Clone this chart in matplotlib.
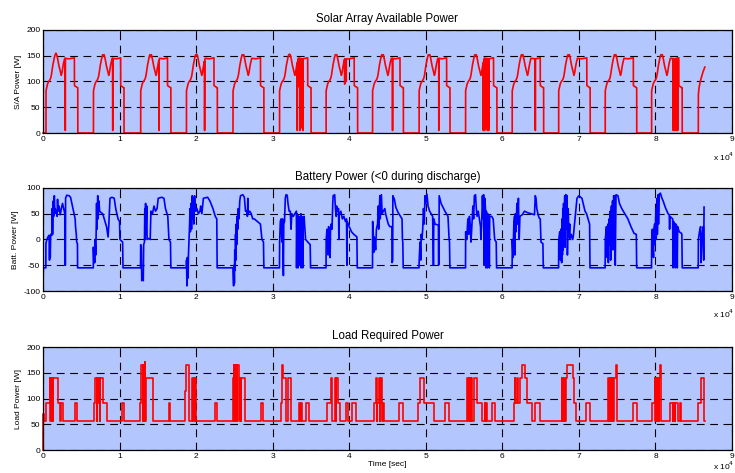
#!/usr/bin/env python3
"""Spacecraft power over one day: solar array, battery and load power (3 stacked panels).
Values read off the reference plot; times kept in units of 1e4 s. Writes out.png."""
import numpy as np
import matplotlib; matplotlib.use("Agg")
import matplotlib.pyplot as plt

plt.rcParams["font.family"] = ["Liberation Sans", "DejaVu Sans"]

BG, RED, BLUE = "#b3c6fd", "#ff0000", "#0000ff"
XTICKS = [0, 1, 2, 3, 4, 5, 6, 7, 8, 9]            # x 1e4 s

# ---- solar array: sunlit arcs (on/off in 1e4 s), arc shape, notches ----
SA_ON   = [0.039, 0.659, 1.276, 1.874, 2.482, 3.090, 3.698, 4.305, 4.913, 5.520, 6.129, 6.736, 7.344, 7.950]
SA_OFF  = [0.455, 1.059, 1.671, 2.278, 2.886, 3.502, 4.110, 4.708, 5.317, 5.930, 6.540, 7.148, 7.756, 8.350]
SA_PEAK = [155, 150, 148, 150, 151, 153, 152, 150, 151, 150, 150, 150, 150, 152]
SA_RISE_DT = [0, 0.0005, 0.01, 0.02, 0.035, 0.05, 0.06, 0.07, 0.08, 0.09, 0.10, 0.11, 0.12, 0.13,
              0.14, 0.15, 0.16, 0.17, 0.18, 0.19, 0.20, 0.21, 0.22, 0.23, 0.24, 0.245, 0.30]
SA_RISE_V  = [0, 82, 88, 95, 100, 103, 106, 112, 122, 132, 140, 147, 152, 154,
              152, 146, 138, 130, 124, 118, 112, 118, 128, 136, 142, 145, 144]
SA_FALL_DT = [-0.045, -0.044, -0.005, -0.001, 0]
SA_FALL_V  = [146, 92, 88, 88, 0]
SA_NOTCH = [[(0.29, 5)], [(0.91, 5)], [(1.514, 5)], [(2.11, 5)], [],
            [(3.32, 5), (3.34, 90), (3.355, 5), (3.375, 10), (3.395, 5)],
            [(3.94, 95), (3.96, 100)], [(4.565, 5)], [(5.17, 5)],
            [(5.75, 5), (5.768, 5), (5.786, 10), (5.804, 5), (5.822, 5)],
            [(6.43, 5)], [], [], [(8.23, 5), (8.25, 5), (8.27, 5), (8.29, 5)]]
SA_LAST_T = [8.560, 8.561, 8.57, 8.585, 8.60, 8.62, 8.645]
SA_LAST_V = [0, 75, 88, 100, 108, 118, 128]

# ---- battery power, one list per orbit: (t [1e4 s], P [W]) ----
B00 = [(0.0, -70), (0.006, -55)]
B01 = [(0.037,-55),(0.038,-8),(0.05,0),(0.065,5),(0.08,8),(0.085,-40),(0.09,5),(0.095,-35),(0.10,10),(0.115,8),
       (0.12,60),(0.125,10),(0.135,75),(0.14,45),(0.148,85),(0.155,50),(0.16,60),(0.17,55),(0.18,50),(0.185,45),
       (0.19,78),(0.195,55),(0.21,65),(0.225,48),(0.24,60),(0.255,70),(0.285,50),(0.287,-50),(0.293,-50),(0.295,80),
       (0.31,86),(0.34,85),(0.36,82),(0.38,68),(0.40,55),(0.42,40),(0.425,25),(0.435,10),(0.44,-5),(0.45,-8),(0.452,-55)]
B02 = [(0.657,-55),(0.658,-15),(0.665,-45),(0.67,-20),(0.675,-45),(0.68,0),(0.69,-30),(0.70,70),(0.705,20),(0.715,85),
       (0.72,40),(0.73,75),(0.74,55),(0.76,52),(0.78,50),(0.80,40),(0.83,25),(0.85,5),(0.86,30),(0.875,80),(0.90,82),
       (0.93,80),(0.95,60),(0.98,40),(1.0,35),(1.005,0),(1.04,-5),(1.045,-55)]
B03 = [(1.274,-55),(1.276,-10),(1.285,-15),(1.29,-80),(1.30,-70),(1.31,-80),(1.315,-10),(1.325,-5),(1.33,60),(1.335,0),
       (1.34,70),(1.345,10),(1.355,65),(1.36,0),(1.38,2),(1.40,0),(1.41,55),(1.43,50),(1.45,65),(1.47,55),(1.49,60),
       (1.505,80),(1.55,82),(1.58,80),(1.60,60),(1.63,45),(1.645,0),(1.665,-5),(1.67,-55)]
B04 = [(1.873,-55),(1.875,-40),(1.88,-90),(1.885,-35),(1.89,-60),(1.895,-75),(1.90,-30),(1.91,10),(1.915,30),(1.92,60),
       (1.925,15),(1.935,70),(1.94,20),(1.95,85),(1.955,40),(1.965,80),(1.97,30),(1.98,85),(1.99,55),(2.01,60),(2.03,50),
       (2.05,55),(2.06,65),(2.075,50),(2.095,80),(2.15,82),(2.18,75),(2.22,60),(2.25,45),(2.27,40),(2.275,-55)]
B05 = [(2.481,-55),(2.483,-70),(2.49,-90),(2.495,-50),(2.50,-85),(2.505,-20),(2.51,-60),(2.515,10),(2.52,-40),(2.525,30),
       (2.53,-10),(2.535,45),(2.545,20),(2.55,60),(2.56,40),(2.57,75),(2.58,85),(2.61,87),(2.63,82),(2.645,55),(2.66,55),
       (2.67,45),(2.675,80),(2.68,50),(2.70,55),(2.72,50),(2.74,40),(2.76,40),(2.80,35),(2.84,30),(2.86,0),(2.88,-5),(2.885,-55)]
B06 = [(3.089,-55),(3.091,-5),(3.10,35),(3.11,40),(3.12,-5),(3.13,40),(3.14,-70),(3.145,30),(3.155,35),(3.165,80),
       (3.175,87),(3.19,86),(3.20,70),(3.215,55),(3.23,55),(3.24,20),(3.25,50),(3.27,45),(3.31,55),(3.312,-55),(3.318,50),
       (3.33,45),(3.332,-55),(3.338,45),(3.35,40),(3.352,-50),(3.358,40),(3.37,50),(3.372,-55),(3.378,45),(3.39,40),
       (3.392,-55),(3.398,40),(3.41,45),(3.43,0),(3.46,-5),(3.49,-10),(3.495,-55)]
B07 = [(3.697,-55),(3.699,0),(3.71,20),(3.72,15),(3.725,-30),(3.73,25),(3.745,20),(3.75,-35),(3.755,15),(3.765,30),
       (3.775,20),(3.785,70),(3.79,85),(3.81,87),(3.82,60),(3.83,45),(3.835,65),(3.85,55),(3.86,60),(3.865,0),(3.87,50),
       (3.89,55),(3.91,40),(3.93,45),(3.95,35),(3.965,40),(3.97,-50),(3.975,35),(4.0,25),(4.03,15),(4.06,10),(4.10,5),(4.105,-55)]
B08 = [(4.304,-55),(4.306,35),(4.315,10),(4.32,-25),(4.325,5),(4.335,0),(4.345,-20),(4.355,20),(4.37,30),(4.38,65),
       (4.385,20),(4.40,85),(4.405,40),(4.42,87),(4.43,50),(4.445,55),(4.465,60),(4.475,50),(4.51,30),(4.53,25),(4.558,25),
       (4.56,-45),(4.568,-40),(4.57,85),(4.59,78),(4.61,62),(4.64,52),(4.67,45),(4.69,40),(4.695,0),(4.70,-5),(4.705,-55)]
B09 = [(4.912,-55),(4.914,-40),(4.925,-5),(4.935,-40),(4.94,10),(4.95,0),(4.96,20),(4.97,60),(4.98,30),(4.99,85),
       (5.0,70),(5.015,88),(5.03,65),(5.05,55),(5.07,50),(5.09,45),(5.10,-50),(5.105,40),(5.12,30),(5.165,28),(5.167,-50),
       (5.172,-45),(5.175,85),(5.20,70),(5.25,55),(5.27,50),(5.29,45),(5.305,0),(5.31,-5),(5.315,-55)]
B10 = [(5.519,-55),(5.521,15),(5.535,0),(5.55,40),(5.56,10),(5.57,45),(5.58,30),(5.59,-5),(5.60,20),(5.615,65),
       (5.625,40),(5.635,85),(5.65,87),(5.66,60),(5.67,45),(5.685,55),(5.70,40),(5.715,25),(5.72,0),(5.73,30),(5.74,85),
       (5.75,40),(5.755,87),(5.765,-50),(5.77,80),(5.78,60),(5.785,-55),(5.79,55),(5.80,50),(5.805,-55),(5.81,50),
       (5.825,45),(5.83,-55),(5.835,45),(5.86,45),(5.88,40),(5.90,0),(5.92,-5),(5.925,-55)]
B11 = [(6.128,-55),(6.13,0),(6.14,-35),(6.15,30),(6.16,45),(6.165,-30),(6.17,50),(6.18,15),(6.19,70),(6.20,30),
       (6.21,80),(6.22,0),(6.23,45),(6.26,48),(6.29,55),(6.33,52),(6.38,50),(6.42,48),(6.43,85),(6.44,80),(6.45,60),
       (6.465,50),(6.48,42),(6.495,40),(6.505,-5),(6.53,-8),(6.535,-55)]
B12 = [(6.735,-55),(6.737,0),(6.75,15),(6.76,-40),(6.765,20),(6.775,-45),(6.78,40),(6.785,-30),(6.79,60),(6.795,-20),
       (6.80,70),(6.805,10),(6.815,85),(6.82,-15),(6.83,87),(6.835,20),(6.845,85),(6.85,-30),(6.86,60),(6.87,5),(6.88,30),
       (6.885,0),(6.90,10),(6.92,0),(6.93,10),(6.975,80),(7.0,85),(7.04,80),(7.08,55),(7.10,50),(7.13,35),(7.14,30),(7.145,-55)]
B13 = [(7.343,-55),(7.345,0),(7.36,25),(7.37,-35),(7.38,30),(7.385,-45),(7.395,40),(7.40,-10),(7.41,55),(7.415,-40),
       (7.425,65),(7.43,0),(7.44,75),(7.445,-20),(7.455,85),(7.46,20),(7.47,85),(7.475,-50),(7.485,87),(7.51,85),(7.53,70),
       (7.56,60),(7.60,50),(7.64,40),(7.68,25),(7.72,12),(7.75,10),(7.755,-55)]
B14 = [(7.949,-55),(7.951,0),(7.96,20),(7.975,-35),(7.98,20),(7.99,30),(7.995,-10),(8.005,60),(8.01,0),(8.02,80),
       (8.025,10),(8.035,87),(8.04,30),(8.05,88),(8.065,90),(8.085,80),(8.10,75),(8.13,62),(8.15,55),(8.165,50),(8.18,48),
       (8.185,20),(8.19,45),(8.21,42),(8.225,40),(8.23,-55),(8.235,35),(8.255,30),(8.26,-55),(8.265,30),(8.28,25),
       (8.285,-55),(8.29,25),(8.31,15),(8.34,12),(8.345,10),(8.35,-55)]
B15 = [(8.559,-55),(8.561,0),(8.575,15),(8.59,25),(8.595,-45),(8.61,10),(8.625,25),(8.63,-40),(8.635,63)]

# ---- load power, step changes per orbit: (t [1e4 s], P [W] from t on) ----
L00 = [(0.0, 0), (0.001, 70), (0.012, 57)]
L01 = [(0.039,92),(0.09,140),(0.095,57),(0.10,140),(0.105,57),(0.11,140),(0.115,57),(0.12,140),(0.125,57),(0.13,140),
       (0.19,92),(0.225,57),(0.24,92),(0.265,57),(0.415,92),(0.445,57)]
L02 = [(0.67,92),(0.685,140),(0.70,57),(0.705,140),(0.715,92),(0.735,140),(0.745,57),(0.75,140),(0.785,92),(0.835,57),
       (1.03,92),(1.055,57)]
L03 = [(1.265,92),(1.275,140),(1.285,165),(1.30,57),(1.305,165),(1.315,57),(1.32,165),(1.325,57),(1.33,170),(1.335,57),
       (1.34,140),(1.44,57),(1.645,92),(1.665,57)]
L04 = [(1.855,115),(1.865,165),(1.91,57),(1.945,140),(1.955,57),(1.96,140),(1.965,57),(1.975,140),(1.98,57),(1.985,140),
       (2.0,57),(2.245,92),(2.27,57)]
L05 = [(2.48,140),(2.495,165),(2.50,57),(2.505,165),(2.51,57),(2.515,165),(2.52,57),(2.525,165),(2.535,57),(2.54,165),
       (2.555,140),(2.565,57),(2.57,140),(2.58,57),(2.585,140),(2.635,57),(2.85,92),(2.88,57)]
L06 = [(3.11,92),(3.12,165),(3.13,140),(3.17,57),(3.205,140),(3.245,57),(3.35,92),(3.36,57),(3.365,92),(3.385,57),
       (3.44,92),(3.47,57)]
L07 = [(3.715,92),(3.765,140),(3.775,92),(3.78,57),(3.82,140),(3.825,57),(3.83,140),(3.85,92),(3.875,57),(3.96,92),
       (3.98,57),(4.04,92),(4.09,57)]
L08 = [(4.32,92),(4.345,140),(4.36,57),(4.365,92),(4.39,140),(4.40,57),(4.405,92),(4.415,140),(4.43,57),(4.435,92),
       (4.46,57),(4.65,92),(4.70,57)]
L09 = [(4.90,92),(4.925,140),(4.98,92),(5.105,57),(5.255,92),(5.30,57)]
L10 = [(5.54,140),(5.545,57),(5.55,140),(5.555,57),(5.56,140),(5.565,57),(5.57,140),(5.575,57),(5.58,140),(5.585,57),
       (5.59,140),(5.61,57),(5.625,140),(5.67,92),(5.735,57),(5.775,92),(5.78,57),(5.79,92),(5.80,57),(5.865,92),(5.91,57)]
L11 = [(6.15,92),(6.165,140),(6.17,92),(6.195,140),(6.20,92),(6.235,140),(6.255,165),(6.30,140),(6.32,92),(6.385,57),
       (6.43,92),(6.495,57)]
L12 = [(6.78,140),(6.785,57),(6.79,140),(6.795,57),(6.80,140),(6.805,57),(6.81,140),(6.815,57),(6.82,140),(6.825,57),
       (6.83,140),(6.85,165),(6.925,140),(6.935,92),(6.96,57),(7.09,92),(7.14,57)]
L13 = [(7.385,140),(7.39,57),(7.40,140),(7.405,57),(7.415,140),(7.42,57),(7.43,140),(7.435,57),(7.445,140),(7.45,57),
       (7.46,140),(7.49,165),(7.50,57),(7.71,92),(7.755,57)]
L14 = [(7.95,92),(7.995,140),(8.0,57),(8.005,140),(8.01,57),(8.02,140),(8.025,57),(8.03,140),(8.04,57),(8.045,140),
       (8.06,165),(8.075,57),(8.19,92),(8.23,57),(8.235,92),(8.25,57),(8.26,92),(8.30,57),(8.32,92),(8.34,57)]
L15 = [(8.555,92),(8.60,140),(8.64,57),(8.645,57)]


def solar_path():
    t, v = [0.0], [0.0]
    for on, off, pk, notch in zip(SA_ON, SA_OFF, SA_PEAK, SA_NOTCH):
        rv = list(SA_RISE_V); rv[rv.index(max(rv))] = pk
        ot = [on + d for d in SA_RISE_DT] + [off + d for d in SA_FALL_DT]
        ov = rv + SA_FALL_V
        for tn, vn in notch:
            base = float(np.interp(tn, ot, ov))
            pts = [(a, b) for a, b in zip(ot, ov) if not (tn - 0.001 <= a <= tn + 0.003)]
            pts += [(tn - 0.001, base), (tn, vn), (tn + 0.002, vn), (tn + 0.003, base)]
            pts.sort()
            ot, ov = [p[0] for p in pts], [p[1] for p in pts]
        t += ot; v += ov
    t += SA_LAST_T; v += SA_LAST_V
    return np.array(t) * 1e4, np.array(v)


def joined(*parts):
    pts = [p for part in parts for p in part]
    return np.array([p[0] for p in pts]) * 1e4, np.array([p[1] for p in pts])


def style(ax, ylim, yticks, ylabel, title):
    ax.set_facecolor(BG)
    ax.set_xlim(0, 9e4); ax.set_ylim(*ylim)
    ax.set_xticks([x * 1e4 for x in XTICKS]); ax.set_xticklabels([str(x) for x in XTICKS])
    ax.set_yticks(yticks); ax.set_yticklabels([str(y) for y in yticks])
    ax.tick_params(direction="in", length=3, width=0.6, labelsize=6, top=True, right=True, pad=2)
    ax.grid(True, color="k", lw=0.8, linestyle=(0, (7, 5)))
    ax.set_axisbelow(True)
    for s in ax.spines.values(): s.set_linewidth(0.9)
    ax.set_ylabel(ylabel, fontsize=6, labelpad=3)
    ax.set_title(title, fontsize=8.3, pad=6)


fig = plt.figure(figsize=(7.35, 4.73), dpi=100)
L, W, H = 43 / 735, 689 / 735, 103 / 473
ax1 = fig.add_axes([L, 1 - 133 / 473, W, H])
ax2 = fig.add_axes([L, 1 - 291 / 473, W, H])
ax3 = fig.add_axes([L, 1 - 450 / 473, W, H])

st, sv = solar_path()
ax1.plot(st, sv, color=RED, lw=1.2, clip_on=False)
style(ax1, (0, 200), [0, 50, 100, 150, 200], "S/A Power [W]", "Solar Array Available Power")

bt, bv = joined(B00, B01, B02, B03, B04, B05, B06, B07, B08, B09, B10, B11, B12, B13, B14, B15)
ax2.plot(bt, bv, color=BLUE, lw=1.2)
style(ax2, (-100, 100), [-100, -50, 0, 50, 100], "Batt. Power [W]", "Battery Power (<0 during discharge)")

lt, lv = joined(L00, L01, L02, L03, L04, L05, L06, L07, L08, L09, L10, L11, L12, L13, L14, L15)
ax3.plot(lt, lv, color=RED, lw=1.2, drawstyle="steps-post", clip_on=False)
style(ax3, (0, 200), [0, 50, 100, 150, 200], "Load Power [W]", "Load Required Power")
ax3.set_xlabel("Time [sec]", fontsize=6, labelpad=1)

for ypx in (157, 314, 466):
    fig.text(0.999, 1 - ypx / 473, r"x 10$^{4}$", fontsize=6, ha="right", va="center")

fig.savefig("out.png", dpi=100)
